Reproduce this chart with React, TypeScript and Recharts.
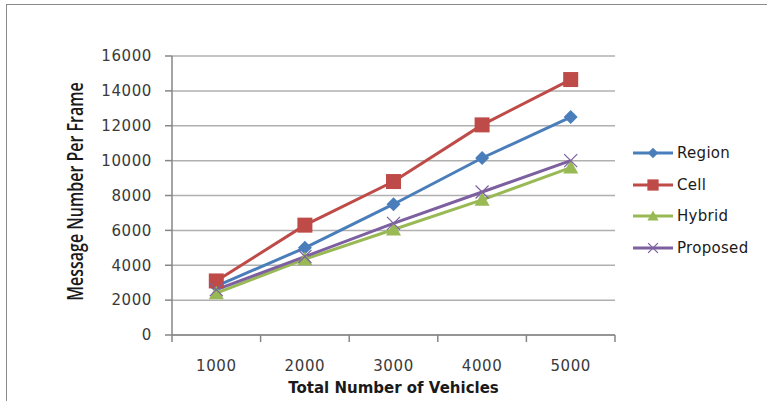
import React from "react";
import { CartesianGrid, Label, Line, LineChart, XAxis, YAxis } from "recharts";

const vehicles = [1000, 2000, 3000, 4000, 5000];
const region = [2800, 5000, 7500, 10150, 12500];
const cell = [3100, 6300, 8800, 12050, 14650];
const hybrid = [2400, 4350, 6050, 7750, 9600];
const proposed = [2600, 4500, 6400, 8200, 10000];
const yTicks = [0, 2000, 4000, 6000, 8000, 10000, 12000, 14000, 16000];

const data = vehicles.map((v, i) => ({
  vehicles: v,
  Region: region[i],
  Cell: cell[i],
  Hybrid: hybrid[i],
  Proposed: proposed[i],
}));

// category boundaries (where the little x ticks sit) plus the label positions
const step = vehicles[1] - vehicles[0];
const boundaries = [...vehicles.map((v) => v - step / 2), vehicles[vehicles.length - 1] + step / 2];
const xTicks = [...boundaries, ...vehicles].sort((a, b) => a - b);

const series = [
  { key: "Region", color: "#4a7ebb", shape: "diamond" },
  { key: "Cell", color: "#be4b48", shape: "square" },
  { key: "Hybrid", color: "#98b954", shape: "triangle" },
  { key: "Proposed", color: "#7d60a0", shape: "cross" },
];

const tickFont = { fontFamily: "DejaVu Sans", fontSize: 15, fill: "#3a3a3a", letterSpacing: 0.6 };

function Marker({ shape, color, cx, cy, s = 1 }: any) {
  if (shape === "diamond") {
    const r = 7 * s;
    return <polygon points={`${cx},${cy - r} ${cx + r},${cy} ${cx},${cy + r} ${cx - r},${cy}`} fill={color} />;
  }
  if (shape === "square") {
    const r = 7.5 * s;
    return <rect x={cx - r} y={cy - r} width={2 * r} height={2 * r} fill={color} />;
  }
  if (shape === "triangle") {
    const r = 7.5 * s;
    return <polygon points={`${cx},${cy - r} ${cx + r},${cy + r * 0.8} ${cx - r},${cy + r * 0.8}`} fill={color} />;
  }
  const r = 6.5 * s;
  return (
    <g stroke={color} strokeWidth={1.2}>
      <line x1={cx - r} y1={cy - r} x2={cx + r} y2={cy + r} />
      <line x1={cx - r} y1={cy + r} x2={cx + r} y2={cy - r} />
    </g>
  );
}

function makeDot(shape: string, color: string) {
  return (p: any) => (
    <Marker key={`${shape}-${p.index}`} shape={shape} color={color} cx={p.cx} cy={p.cy} />
  );
}

function XTick({ x, y, payload }: any) {
  if (vehicles.includes(payload.value)) {
    return (
      <text x={x} y={y + 36} textAnchor="middle" {...tickFont}>
        {payload.value}
      </text>
    );
  }
  return <line x1={x} y1={y} x2={x} y2={y + 7} stroke="#868686" strokeWidth={1.5} />;
}

function YLabel({ viewBox }: any) {
  const cx = 75;
  const cy = viewBox.y + viewBox.height / 2 - 4;
  return (
    <text
      transform={`translate(${cx},${cy}) rotate(-90) scale(1,1.3)`}
      textAnchor="middle"
      dominantBaseline="central"
      fontFamily="Open Sans"
      fontSize={16}
      fontWeight={600}
      fill="#1a1a1a"
    >
      Message Number Per Frame
    </text>
  );
}

function XLabel({ viewBox }: any) {
  return (
    <text
      x={viewBox.x + viewBox.width / 2}
      y={393}
      textAnchor="middle"
      fontFamily="DejaVu Sans"
      fontSize={15}
      fontWeight="bold"
      fill="#1a1a1a"
    >
      Total Number of Vehicles
    </text>
  );
}

export default function App() {
  return (
    <div style={{ position: "fixed", left: 0, top: 0, width: 767, height: 401, overflow: "hidden", background: "#fff" }}>
      <div
        style={{
          position: "absolute",
          left: 6,
          top: 4,
          width: 800,
          height: 420,
          border: "1.5px solid #8a8a8a",
          boxSizing: "border-box",
        }}
      />
      <div style={{ position: "absolute", left: 0, top: 0 }}>
        <LineChart width={767} height={401} data={data} margin={{ top: 56, right: 152, bottom: 0, left: 0 }}>
          <CartesianGrid vertical={false} stroke="#b0b0b0" strokeWidth={1.5} />
          <XAxis
            dataKey="vehicles"
            type="number"
            domain={[boundaries[0], boundaries[boundaries.length - 1]]}
            ticks={xTicks}
            interval={0}
            tickLine={false}
            tickSize={0}
            tickMargin={0}
            height={66}
            tick={<XTick />}
            axisLine={{ stroke: "#868686", strokeWidth: 1.5 }}
          >
            <Label content={<XLabel />} />
          </XAxis>
          <YAxis
            width={172}
            domain={[0, 16000]}
            ticks={yTicks}
            interval={0}
            tickSize={7}
            tickMargin={13}
            tick={tickFont}
            tickLine={{ stroke: "#868686", strokeWidth: 1.5 }}
            axisLine={{ stroke: "#868686", strokeWidth: 1.5 }}
          >
            <Label content={<YLabel />} />
          </YAxis>
          {series.map((s) => (
            <Line
              key={s.key}
              dataKey={s.key}
              stroke={s.color}
              strokeWidth={3}
              type="linear"
              dot={makeDot(s.shape, s.color)}
              activeDot={false}
              isAnimationActive={false}
            />
          ))}
        </LineChart>
      </div>
      <div style={{ position: "absolute", left: 632, top: 137 }}>
        {series.map((s) => (
          <div key={s.key} style={{ display: "flex", alignItems: "center", height: 31.7 }}>
            <svg width={42} height={20}>
              <line x1={1} y1={10} x2={41} y2={10} stroke={s.color} strokeWidth={3} />
              <Marker shape={s.shape} color={s.color} cx={21} cy={10} s={0.75} />
            </svg>
            <span style={{ fontFamily: "DejaVu Sans", fontSize: 15, color: "#1a1a1a", marginLeft: 3, letterSpacing: 0.3 }}>
              {s.key}
            </span>
          </div>
        ))}
      </div>
    </div>
  );
}
